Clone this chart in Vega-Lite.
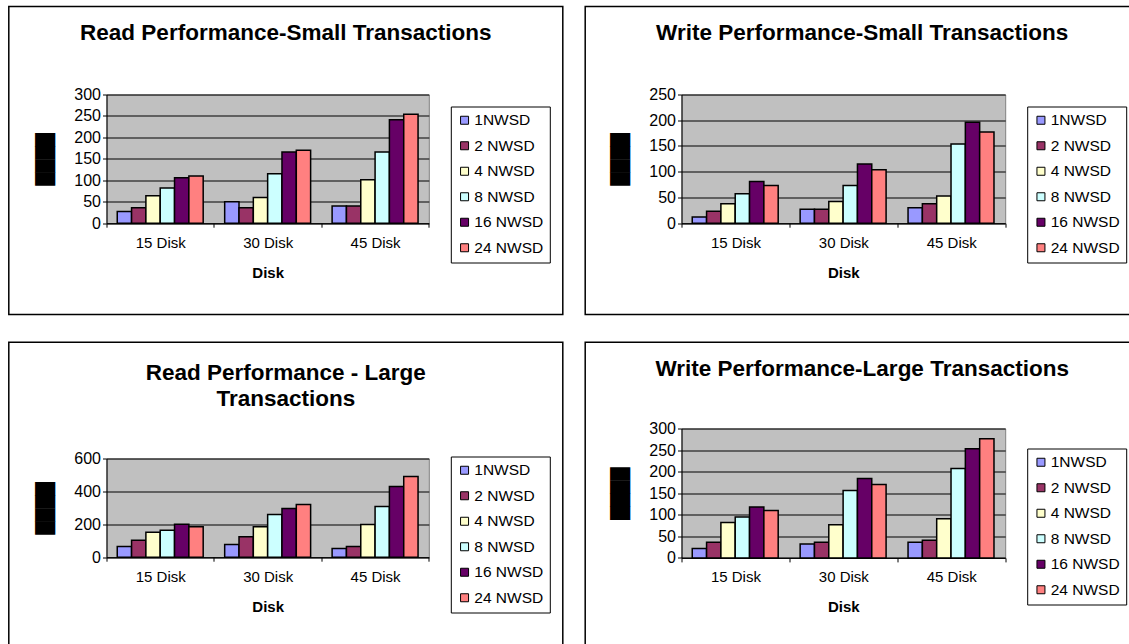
{
  "$schema": "https://vega.github.io/schema/vega-lite/v6.json",
  "padding": {"left": 7.5, "top": 4.5, "right": 0, "bottom": 0},
  "background": "white",
  "spacing": 19,
  "resolve": {"scale": {"color": "independent"}, "legend": {"color": "independent"}},
  "hconcat": [
    {
      "spacing": 24,
      "resolve": {"scale": {"color": "independent"}, "legend": {"color": "independent"}},
      "vconcat": [
        {
          "width": 322.3,
          "height": 128.7,
          "title": {"text": "Read Performance-Small Transactions", "offset": -39, "baseline": "top", "frame": "bounds", "anchor": "middle"},
          "layer": [
            {
              "data": {"values": [
                {"disk": "15 Disk", "nwsd": "1NWSD", "v": 27}, {"disk": "15 Disk", "nwsd": "2 NWSD", "v": 36}, {"disk": "15 Disk", "nwsd": "4 NWSD", "v": 64}, {"disk": "15 Disk", "nwsd": "8 NWSD", "v": 82}, {"disk": "15 Disk", "nwsd": "16 NWSD", "v": 106}, {"disk": "15 Disk", "nwsd": "24 NWSD", "v": 110},
                {"disk": "30 Disk", "nwsd": "1NWSD", "v": 50}, {"disk": "30 Disk", "nwsd": "2 NWSD", "v": 36}, {"disk": "30 Disk", "nwsd": "4 NWSD", "v": 60}, {"disk": "30 Disk", "nwsd": "8 NWSD", "v": 115}, {"disk": "30 Disk", "nwsd": "16 NWSD", "v": 166}, {"disk": "30 Disk", "nwsd": "24 NWSD", "v": 170},
                {"disk": "45 Disk", "nwsd": "1NWSD", "v": 40}, {"disk": "45 Disk", "nwsd": "2 NWSD", "v": 40}, {"disk": "45 Disk", "nwsd": "4 NWSD", "v": 101}, {"disk": "45 Disk", "nwsd": "8 NWSD", "v": 166}, {"disk": "45 Disk", "nwsd": "16 NWSD", "v": 241}, {"disk": "45 Disk", "nwsd": "24 NWSD", "v": 254}
              ]},
              "mark": {"type": "bar", "stroke": "black", "strokeWidth": 1.5},
              "encoding": {
                "x": {"field": "disk", "type": "nominal", "scale": {"paddingInner": 0, "paddingOuter": 0}, "axis": {"title": "Disk"}},
                "xOffset": {"field": "nwsd", "type": "nominal", "sort": ["1NWSD", "2 NWSD", "4 NWSD", "8 NWSD", "16 NWSD", "24 NWSD"], "scale": {"paddingInner": 0, "paddingOuter": 0.75}},
                "y": {"field": "v", "type": "quantitative", "scale": {"domain": [0, 300], "nice": false}, "axis": {"values": [0, 50, 100, 150, 200, 250, 300], "title": "████"}},
                "color": {"field": "nwsd", "type": "nominal", "sort": ["1NWSD", "2 NWSD", "4 NWSD", "8 NWSD", "16 NWSD", "24 NWSD"],
                  "scale": {"domain": ["1NWSD", "2 NWSD", "4 NWSD", "8 NWSD", "16 NWSD", "24 NWSD"], "range": ["#9999FF", "#993366", "#FFFFCC", "#CCFFFF", "#660066", "#FF8080"]},
                  "legend": {"legendX": 344.3, "legendY": 12}}
              }
            },
            {
              "data": {"values": [{"frame": "chart area"}]},
              "mark": {"type": "rect", "filled": false, "stroke": "black", "strokeWidth": 1.5},
              "encoding": {
                "x": {"datum": 0, "type": "quantitative", "scale": {"domain": [0, 1], "range": [-97.7, 456.3], "nice": false, "zero": false}, "axis": null},
                "x2": {"datum": 1},
                "y": {"datum": 0, "type": "quantitative", "scale": {"domain": [0, 1], "range": [-88, 220], "nice": false, "zero": false}, "axis": null},
                "y2": {"datum": 1}
              }
            }
          ],
          "resolve": {"scale": {"x": "independent", "y": "independent"}}
        },
        {
          "width": 322.3,
          "height": 98.7,
          "title": {"text": ["Read Performance - Large", "Transactions"], "offset": -69, "baseline": "top", "frame": "bounds", "anchor": "middle", "lineHeight": 26},
          "layer": [
            {
              "data": {"values": [
                {"disk": "15 Disk", "nwsd": "1NWSD", "v": 65}, {"disk": "15 Disk", "nwsd": "2 NWSD", "v": 103}, {"disk": "15 Disk", "nwsd": "4 NWSD", "v": 152}, {"disk": "15 Disk", "nwsd": "8 NWSD", "v": 164}, {"disk": "15 Disk", "nwsd": "16 NWSD", "v": 201}, {"disk": "15 Disk", "nwsd": "24 NWSD", "v": 185},
                {"disk": "30 Disk", "nwsd": "1NWSD", "v": 77}, {"disk": "30 Disk", "nwsd": "2 NWSD", "v": 124}, {"disk": "30 Disk", "nwsd": "4 NWSD", "v": 185}, {"disk": "30 Disk", "nwsd": "8 NWSD", "v": 260}, {"disk": "30 Disk", "nwsd": "16 NWSD", "v": 296}, {"disk": "30 Disk", "nwsd": "24 NWSD", "v": 320},
                {"disk": "45 Disk", "nwsd": "1NWSD", "v": 53}, {"disk": "45 Disk", "nwsd": "2 NWSD", "v": 65}, {"disk": "45 Disk", "nwsd": "4 NWSD", "v": 199}, {"disk": "45 Disk", "nwsd": "8 NWSD", "v": 308}, {"disk": "45 Disk", "nwsd": "16 NWSD", "v": 430}, {"disk": "45 Disk", "nwsd": "24 NWSD", "v": 491}
              ]},
              "mark": {"type": "bar", "stroke": "black", "strokeWidth": 1.5},
              "encoding": {
                "x": {"field": "disk", "type": "nominal", "scale": {"paddingInner": 0, "paddingOuter": 0}, "axis": {"title": "Disk"}},
                "xOffset": {"field": "nwsd", "type": "nominal", "sort": ["1NWSD", "2 NWSD", "4 NWSD", "8 NWSD", "16 NWSD", "24 NWSD"], "scale": {"paddingInner": 0, "paddingOuter": 0.75}},
                "y": {"field": "v", "type": "quantitative", "scale": {"domain": [0, 600], "nice": false}, "axis": {"values": [0, 200, 400, 600], "title": "████"}},
                "color": {"field": "nwsd", "type": "nominal", "sort": ["1NWSD", "2 NWSD", "4 NWSD", "8 NWSD", "16 NWSD", "24 NWSD"],
                  "scale": {"domain": ["1NWSD", "2 NWSD", "4 NWSD", "8 NWSD", "16 NWSD", "24 NWSD"], "range": ["#9999FF", "#993366", "#FFFFCC", "#CCFFFF", "#660066", "#FF8080"]},
                  "legend": {"legendX": 344.3, "legendY": -2}}
              }
            },
            {
              "data": {"values": [{"frame": "chart area"}]},
              "mark": {"type": "rect", "filled": false, "stroke": "black", "strokeWidth": 1.5},
              "encoding": {
                "x": {"datum": 0, "type": "quantitative", "scale": {"domain": [0, 1], "range": [-97.7, 456.3], "nice": false, "zero": false}, "axis": null},
                "x2": {"datum": 1},
                "y": {"datum": 0, "type": "quantitative", "scale": {"domain": [0, 1], "range": [-116.3, 191.7], "nice": false, "zero": false}, "axis": null},
                "y2": {"datum": 1}
              }
            }
          ],
          "resolve": {"scale": {"x": "independent", "y": "independent"}}
        }
      ]
    },
    {
      "spacing": 24,
      "resolve": {"scale": {"color": "independent"}, "legend": {"color": "independent"}},
      "vconcat": [
        {
          "width": 323.7,
          "height": 128.7,
          "title": {"text": "Write Performance-Small Transactions", "offset": -39, "baseline": "top", "frame": "bounds", "anchor": "middle"},
          "layer": [
            {
              "data": {"values": [
                {"disk": "15 Disk", "nwsd": "1NWSD", "v": 12}, {"disk": "15 Disk", "nwsd": "2 NWSD", "v": 23}, {"disk": "15 Disk", "nwsd": "4 NWSD", "v": 38}, {"disk": "15 Disk", "nwsd": "8 NWSD", "v": 57}, {"disk": "15 Disk", "nwsd": "16 NWSD", "v": 81}, {"disk": "15 Disk", "nwsd": "24 NWSD", "v": 73},
                {"disk": "30 Disk", "nwsd": "1NWSD", "v": 27}, {"disk": "30 Disk", "nwsd": "2 NWSD", "v": 27}, {"disk": "30 Disk", "nwsd": "4 NWSD", "v": 42}, {"disk": "30 Disk", "nwsd": "8 NWSD", "v": 73}, {"disk": "30 Disk", "nwsd": "16 NWSD", "v": 115}, {"disk": "30 Disk", "nwsd": "24 NWSD", "v": 104},
                {"disk": "45 Disk", "nwsd": "1NWSD", "v": 30}, {"disk": "45 Disk", "nwsd": "2 NWSD", "v": 38}, {"disk": "45 Disk", "nwsd": "4 NWSD", "v": 53}, {"disk": "45 Disk", "nwsd": "8 NWSD", "v": 154}, {"disk": "45 Disk", "nwsd": "16 NWSD", "v": 196}, {"disk": "45 Disk", "nwsd": "24 NWSD", "v": 177}
              ]},
              "mark": {"type": "bar", "stroke": "black", "strokeWidth": 1.5},
              "encoding": {
                "x": {"field": "disk", "type": "nominal", "scale": {"paddingInner": 0, "paddingOuter": 0}, "axis": {"title": "Disk"}},
                "xOffset": {"field": "nwsd", "type": "nominal", "sort": ["1NWSD", "2 NWSD", "4 NWSD", "8 NWSD", "16 NWSD", "24 NWSD"], "scale": {"paddingInner": 0, "paddingOuter": 0.75}},
                "y": {"field": "v", "type": "quantitative", "scale": {"domain": [0, 250], "nice": false}, "axis": {"values": [0, 50, 100, 150, 200, 250], "title": "████"}},
                "color": {"field": "nwsd", "type": "nominal", "sort": ["1NWSD", "2 NWSD", "4 NWSD", "8 NWSD", "16 NWSD", "24 NWSD"],
                  "scale": {"domain": ["1NWSD", "2 NWSD", "4 NWSD", "8 NWSD", "16 NWSD", "24 NWSD"], "range": ["#9999FF", "#993366", "#FFFFCC", "#CCFFFF", "#660066", "#FF8080"]},
                  "legend": {"legendX": 345.7, "legendY": 12}}
              }
            },
            {
              "data": {"values": [{"frame": "chart area"}]},
              "mark": {"type": "rect", "filled": false, "stroke": "black", "strokeWidth": 1.5},
              "encoding": {
                "x": {"datum": 0, "type": "quantitative", "scale": {"domain": [0, 1], "range": [-96.3, 457.7], "nice": false, "zero": false}, "axis": null},
                "x2": {"datum": 1},
                "y": {"datum": 0, "type": "quantitative", "scale": {"domain": [0, 1], "range": [-88, 220], "nice": false, "zero": false}, "axis": null},
                "y2": {"datum": 1}
              }
            }
          ],
          "resolve": {"scale": {"x": "independent", "y": "independent"}}
        },
        {
          "width": 323.7,
          "height": 129.4,
          "title": {"text": "Write Performance-Large Transactions", "offset": -39, "baseline": "top", "frame": "bounds", "anchor": "middle"},
          "layer": [
            {
              "data": {"values": [
                {"disk": "15 Disk", "nwsd": "1NWSD", "v": 22}, {"disk": "15 Disk", "nwsd": "2 NWSD", "v": 36}, {"disk": "15 Disk", "nwsd": "4 NWSD", "v": 82}, {"disk": "15 Disk", "nwsd": "8 NWSD", "v": 95}, {"disk": "15 Disk", "nwsd": "16 NWSD", "v": 118}, {"disk": "15 Disk", "nwsd": "24 NWSD", "v": 110},
                {"disk": "30 Disk", "nwsd": "1NWSD", "v": 32}, {"disk": "30 Disk", "nwsd": "2 NWSD", "v": 36}, {"disk": "30 Disk", "nwsd": "4 NWSD", "v": 77}, {"disk": "30 Disk", "nwsd": "8 NWSD", "v": 156}, {"disk": "30 Disk", "nwsd": "16 NWSD", "v": 184}, {"disk": "30 Disk", "nwsd": "24 NWSD", "v": 170},
                {"disk": "45 Disk", "nwsd": "1NWSD", "v": 36}, {"disk": "45 Disk", "nwsd": "2 NWSD", "v": 41}, {"disk": "45 Disk", "nwsd": "4 NWSD", "v": 91}, {"disk": "45 Disk", "nwsd": "8 NWSD", "v": 207}, {"disk": "45 Disk", "nwsd": "16 NWSD", "v": 253}, {"disk": "45 Disk", "nwsd": "24 NWSD", "v": 276}
              ]},
              "mark": {"type": "bar", "stroke": "black", "strokeWidth": 1.5},
              "encoding": {
                "x": {"field": "disk", "type": "nominal", "scale": {"paddingInner": 0, "paddingOuter": 0}, "axis": {"title": "Disk"}},
                "xOffset": {"field": "nwsd", "type": "nominal", "sort": ["1NWSD", "2 NWSD", "4 NWSD", "8 NWSD", "16 NWSD", "24 NWSD"], "scale": {"paddingInner": 0, "paddingOuter": 0.75}},
                "y": {"field": "v", "type": "quantitative", "scale": {"domain": [0, 300], "nice": false}, "axis": {"values": [0, 50, 100, 150, 200, 250, 300], "title": "████"}},
                "color": {"field": "nwsd", "type": "nominal", "sort": ["1NWSD", "2 NWSD", "4 NWSD", "8 NWSD", "16 NWSD", "24 NWSD"],
                  "scale": {"domain": ["1NWSD", "2 NWSD", "4 NWSD", "8 NWSD", "16 NWSD", "24 NWSD"], "range": ["#9999FF", "#993366", "#FFFFCC", "#CCFFFF", "#660066", "#FF8080"]},
                  "legend": {"legendX": 345.7, "legendY": 20}}
              }
            },
            {
              "data": {"values": [{"frame": "chart area"}]},
              "mark": {"type": "rect", "filled": false, "stroke": "black", "strokeWidth": 1.5},
              "encoding": {
                "x": {"datum": 0, "type": "quantitative", "scale": {"domain": [0, 1], "range": [-96.3, 457.7], "nice": false, "zero": false}, "axis": null},
                "x2": {"datum": 1},
                "y": {"datum": 0, "type": "quantitative", "scale": {"domain": [0, 1], "range": [-86.3, 221.7], "nice": false, "zero": false}, "axis": null},
                "y2": {"datum": 1}
              }
            }
          ],
          "resolve": {"scale": {"x": "independent", "y": "independent"}}
        }
      ]
    }
  ],
  "config": {
    "font": "Liberation Sans",
    "view": {"fill": "#C0C0C0", "stroke": "#808080", "strokeWidth": 1},
    "title": {"font": "Liberation Sans", "fontSize": 22.5, "fontWeight": "bold", "color": "black"},
    "axis": {
      "labelFont": "Liberation Sans", "labelFontSize": 15, "labelColor": "black",
      "domainColor": "black", "tickColor": "black", "tickSize": 4,
      "titleColor": "black", "titleFont": "Liberation Sans"
    },
    "axisX": {"labelAngle": 0, "labelPadding": 8, "tickBand": "extent", "grid": false, "titleFontSize": 15, "titleFontWeight": "bold", "titlePadding": 15},
    "axisY": {"grid": true, "gridColor": "black", "gridWidth": 1, "labelPadding": 2, "labelFontSize": 16, "titleFont": "DejaVu Sans", "titleFontSize": 17, "titleFontWeight": "normal", "titlePadding": 19},
    "legend": {
      "orient": "none", "title": null, "strokeColor": "black", "fillColor": "white", "padding": 6,
      "symbolType": "square", "symbolSize": 64, "symbolStrokeColor": "black", "symbolStrokeWidth": 1, "symbolOpacity": 1,
      "labelFont": "Liberation Sans", "labelFontSize": 15.5, "labelColor": "black", "labelOffset": 2, "rowPadding": 8.5
    }
  }
}
